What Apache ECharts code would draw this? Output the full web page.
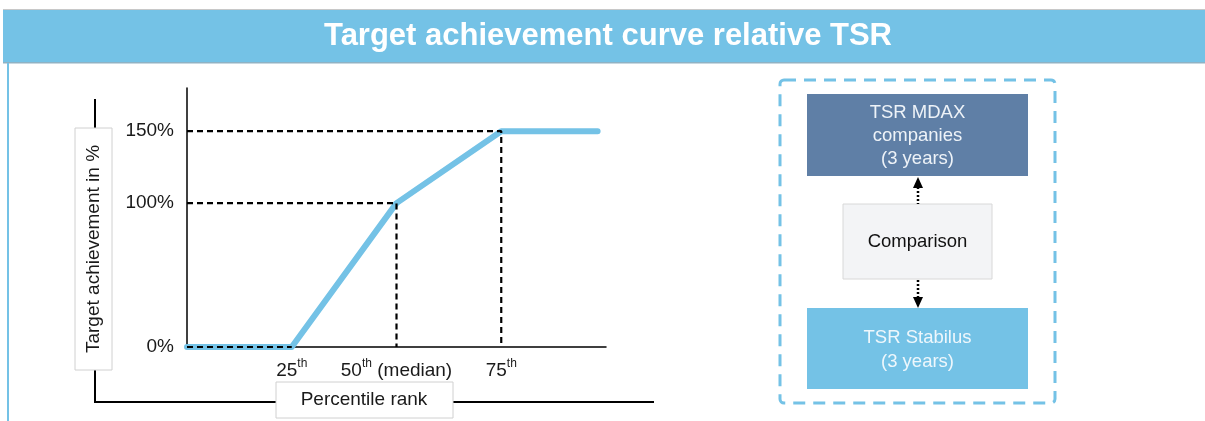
<!DOCTYPE html>
<html>
<head>
<meta charset="utf-8">
<script src="https://cdn.jsdelivr.net/npm/echarts@6/dist/echarts.min.js"></script>
<style>
html,body{margin:0;padding:0;background:#fff;}
#c{width:1205px;height:421px;}
</style>
</head>
<body>
<div id="c"></div>
<script>
// ---- data ----
var curvePoints = [[0, 0], [25, 0], [50, 100], [75, 150], [98, 150]];
var guide100 = [[0, 100], [50, 100], [50, 0]];
var guide150 = [[0, 150], [75, 150], [75, 0]];
var guide0 = [[0, 0], [25, 0]];
var xTickValues = [25, 50, 75];
var xTickLabels = {25: '25', 50: '50', 75: '75'};
var xTickSuffix = {25: '', 50: ' (median)', 75: ''};
var yTickValues = [0, 100, 150];
var titleText = 'Target achievement curve relative TSR';
var yAxisTitle = 'Target achievement in %';
var xAxisTitle = 'Percentile rank';
var boxTop = ['TSR MDAX', 'companies', '(3 years)'];
var boxMid = ['Comparison'];
var boxBottom = ['TSR Stabilus', '(3 years)'];

var FONT = 'Liberation Sans, Arial, sans-serif';
var BLUE = '#74C2E6';
var STEEL = '#5F7FA6';
var FS = 19;

var chart = echarts.init(document.getElementById('c'));

function dashSeries(data) {
  return {
    type: 'line', data: data, showSymbol: false, silent: true, z: 5,
    lineStyle: {color: '#000', width: 2.2, type: [6, 4]},
    animation: false
  };
}

var graphics = [
  // title bar
  {type: 'rect', shape: {x: 3, y: 9, width: 1205, height: 1}, style: {fill: '#c8c8c8'}, silent: true},
  {type: 'rect', shape: {x: 3, y: 10, width: 1205, height: 53}, style: {fill: BLUE}, silent: true},
  {type: 'rect', shape: {x: 3, y: 62, width: 1205, height: 1.5}, style: {fill: '#8fb2c4'}, silent: true},
  {type: 'rect', shape: {x: 7, y: 63, width: 2, height: 360}, style: {fill: BLUE}, silent: true},
  {type: 'text', x: 608, y: 36, style: {text: titleText, fill: '#fff', font: 'bold 31px ' + FONT, align: 'center', verticalAlign: 'middle'}, silent: true},
  // bracket lines
  {type: 'polyline', shape: {points: [[95, 99], [95, 402], [654, 402]]}, style: {stroke: '#000', lineWidth: 2, fill: null}, silent: true},
  // y axis title box
  {type: 'rect', shape: {x: 75, y: 128, width: 37, height: 242}, style: {fill: '#fff', stroke: '#d0d0d0', lineWidth: 1}, silent: true},
  {type: 'text', x: 94, y: 249, rotation: Math.PI / 2, style: {text: yAxisTitle, fill: '#1a1a1a', font: FS + 'px ' + FONT, align: 'center', verticalAlign: 'middle'}, silent: true},
  // x axis title box
  {type: 'rect', shape: {x: 276, y: 382, width: 177, height: 36}, style: {fill: '#fff', stroke: '#d0d0d0', lineWidth: 1}, silent: true},
  {type: 'text', x: 364, y: 400, style: {text: xAxisTitle, fill: '#1a1a1a', font: FS + 'px ' + FONT, align: 'center', verticalAlign: 'middle'}, silent: true},
  // diagram dashed frame
  {type: 'rect', shape: {x: 780, y: 80, width: 275, height: 323, r: 4}, style: {fill: null, stroke: BLUE, lineWidth: 3, lineDash: [12, 8]}, silent: true},
  // top box
  {type: 'rect', shape: {x: 807, y: 94, width: 221, height: 82}, style: {fill: STEEL}, silent: true},
  {type: 'text', x: 917.5, y: 136, style: {text: boxTop.join('\n'), fill: '#eef3f8', font: '18.5px ' + FONT, align: 'center', verticalAlign: 'middle', lineHeight: 23}, silent: true},
  // middle box
  {type: 'rect', shape: {x: 843, y: 204, width: 149, height: 75}, style: {fill: '#F3F4F6', stroke: '#d8d8d8', lineWidth: 1}, silent: true},
  {type: 'text', x: 917.5, y: 242, style: {text: boxMid.join('\n'), fill: '#111', font: '18.5px ' + FONT, align: 'center', verticalAlign: 'middle'}, silent: true},
  // bottom box
  {type: 'rect', shape: {x: 807, y: 308, width: 221, height: 81}, style: {fill: BLUE}, silent: true},
  {type: 'text', x: 917.5, y: 350, style: {text: boxBottom.join('\n'), fill: '#eef7fc', font: '18.5px ' + FONT, align: 'center', verticalAlign: 'middle', lineHeight: 24}, silent: true},
  // arrows
  {type: 'line', shape: {x1: 918, y1: 187, x2: 918, y2: 204}, style: {stroke: '#000', lineWidth: 2.5, lineDash: [2, 2]}, silent: true},
  {type: 'polygon', shape: {points: [[918, 177], [913, 188], [923, 188]]}, style: {fill: '#000'}, silent: true},
  {type: 'line', shape: {x1: 918, y1: 280, x2: 918, y2: 298}, style: {stroke: '#000', lineWidth: 2.5, lineDash: [2, 2]}, silent: true},
  {type: 'polygon', shape: {points: [[918, 308], [913, 297], [923, 297]]}, style: {fill: '#000'}, silent: true}
];

chart.setOption({
  animation: false,
  grid: {left: 187, top: 88, right: 1205 - 606, bottom: 421 - 347},
  xAxis: {
    type: 'value', min: 0, max: 100,
    splitLine: {show: false},
    axisLine: {show: true, onZero: false, lineStyle: {color: '#000', width: 1.5}},
    axisTick: {show: false},
    axisLabel: {
      customValues: xTickValues,
      margin: 11,
      formatter: function (v) {
        return '{n|' + xTickLabels[v] + '}{s|th}' + (xTickSuffix[v] ? '{n|' + xTickSuffix[v] + '}' : '');
      },
      rich: {
        n: {fontSize: FS, fontFamily: FONT, color: '#1a1a1a', verticalAlign: 'bottom', lineHeight: 22},
        s: {fontSize: 12, fontFamily: FONT, color: '#1a1a1a', verticalAlign: 'top', padding: [0, 0, 9, 0], lineHeight: 22}
      }
    }
  },
  yAxis: {
    type: 'value', min: 0, max: 180,
    splitLine: {show: false},
    axisLine: {show: true, lineStyle: {color: '#000', width: 1.5}},
    axisTick: {show: false},
    axisLabel: {
      customValues: yTickValues,
      formatter: '{value}%',
      margin: 13,
      fontSize: FS, fontFamily: FONT, color: '#1a1a1a'
    }
  },
  series: [
    {
      type: 'line', data: curvePoints, showSymbol: false, silent: true, z: 3,
      lineStyle: {color: BLUE, width: 6, cap: 'round', join: 'round'}
    },
    dashSeries(guide100),
    dashSeries(guide150),
    dashSeries(guide0)
  ],
  graphic: graphics
});
</script>
</body>
</html>
